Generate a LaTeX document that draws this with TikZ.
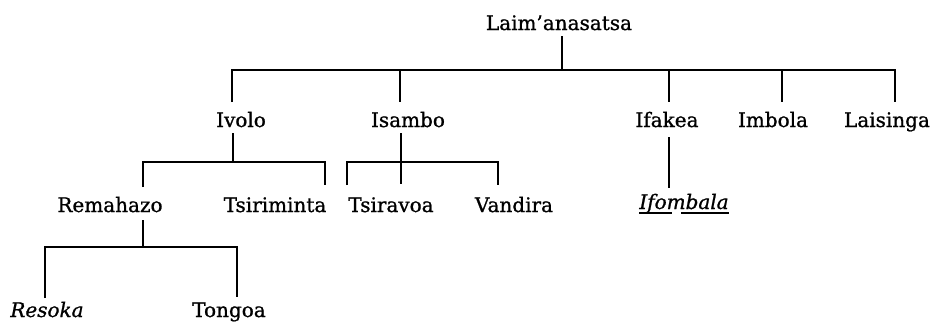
\documentclass[tikz,border=0pt]{standalone}
\usepackage{fontspec}
\setmainfont{DejaVu Serif}[FakeBold=1]
\begin{document}
\begin{tikzpicture}[x=1pt,y=-1pt,
  lbl/.style={anchor=base,inner sep=0pt,font=\fontsize{20}{22}\selectfont},
  ilbl/.style={lbl,font=\fontsize{20}{22}\selectfont\itshape},
  ln/.style={line width=1.9pt,line join=miter}]
\useasboundingbox (0,0) rectangle (932,322);
% labels
\node[lbl] (root) at (559,30) {Laim’anasatsa};
\node[lbl] (ivolo) at (241,127) {Ivolo};
\node[lbl] (isambo) at (408,127) {Isambo};
\node[lbl] (ifakea) at (667,127) {Ifakea};
\node[lbl] (imbola) at (773,127) {Imbola};
\node[lbl] (laisinga) at (887,127) {Laisinga};
\node[lbl] (remahazo) at (110,212) {Remahazo};
\node[lbl] (tsiriminta) at (275,212) {Tsiriminta};
\node[lbl] (tsiravoa) at (391,212) {Tsiravoa};
\node[lbl] (vandira) at (514,212) {Vandira};
\node[ilbl] (ifombala) at (684,209) {Ifombala};
\node[ilbl] (resoka) at (47,317) {Resoka};
\node[lbl] (tongoa) at (229,317) {Tongoa};
% junction coordinates
\coordinate (r0) at (562,36);  \coordinate (r1) at (562,70);
\coordinate (bL) at (232,70);  \coordinate (bR) at (895,70);
\coordinate (d1) at (232,102); \coordinate (u2) at (400,70); \coordinate (d2) at (400,102);
\coordinate (u3) at (669,70);  \coordinate (d3) at (669,102);
\coordinate (u4) at (782,70);  \coordinate (d4) at (782,102);
\coordinate (d5) at (895,102);
\coordinate (iv0) at (233,133); \coordinate (iv1) at (233,162);
\coordinate (ivL) at (143,187); \coordinate (ivR) at (325,185);
\coordinate (is0) at (401,133); \coordinate (is1) at (401,184);
\coordinate (isL) at (347,185); \coordinate (isR) at (498,185);
\coordinate (if0) at (669,137); \coordinate (if1) at (669,188);
\coordinate (re0) at (143,220); \coordinate (re1) at (143,247);
\coordinate (reL) at (45,298);  \coordinate (reR) at (237,297);
% connectors
\draw[ln] (r0) -- (r1);
\draw[ln] (d1) -- (bL) -- (bR) -- (d5);
\draw[ln] (u2) -- (d2);
\draw[ln] (u3) -- (d3);
\draw[ln] (u4) -- (d4);
\draw[ln] (iv0) -- (iv1);
\draw[ln] (ivL) |- (iv1) -| (ivR);
\draw[ln] (is0) -- (is1);
\draw[ln] (isL) |- (is0 |- iv1) -| (isR);
\draw[ln] (if0) -- (if1);
\draw[ln] (re0) -- (re1);
\draw[ln] (reL) |- (re1) -| (reR);
% underlines of Ifombala
\draw[line width=1.6pt] ([yshift=-4pt]ifombala.base west) -- ++(33,0);
\draw[line width=1.6pt] ([xshift=42pt,yshift=-4pt]ifombala.base west) -- ([yshift=-4pt]ifombala.base east);
\end{tikzpicture}
\end{document}
